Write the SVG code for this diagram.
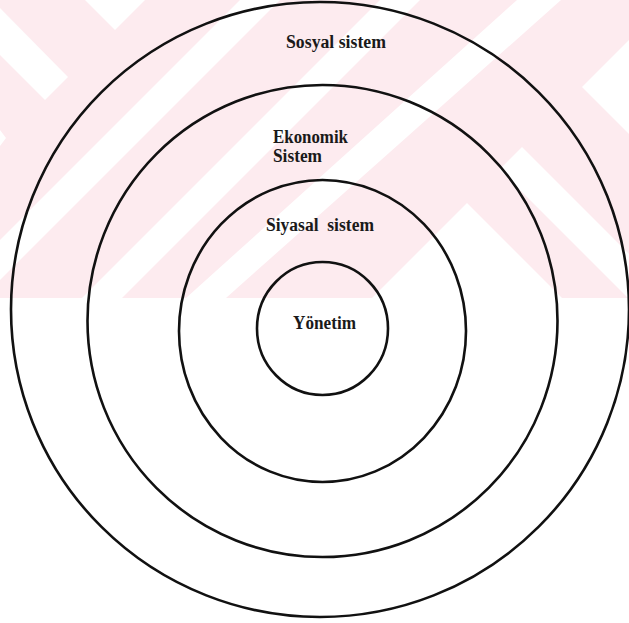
<svg xmlns="http://www.w3.org/2000/svg" width="629" height="623" viewBox="0 0 629 623">
  <style>
    .ring { fill: none; stroke: #111; stroke-width: 2.6; }
    .lbl { font-family: "Liberation Serif", "Times New Roman", serif; font-size: 18px; font-weight: bold; fill: #1a1a1a; }
    .wm { fill: #fdebef; }
    .wmw { fill: #ffffff; }
  </style>
  <rect x="0" y="0" width="629" height="623" fill="#ffffff"/>
  <g id="watermark">
    <rect class="wm" x="0" y="0" width="629" height="298"/>
    <polygon class="wmw" points="240,0 280,0 0,280 0,240"/>
    <polygon class="wmw" points="380,0 420,0 122,298 82,298"/>
    <polygon class="wmw" points="517,0 561,0 226,298 186,298"/>
    <polygon class="wmw" points="85,0 115,30 145,0"/>
    <polygon class="wmw" points="0,8 68,77 45,100 0,55"/>
    <polygon class="wmw" points="0,130 6,138 0,146"/>
    <polygon class="wmw" points="629,40 582,87 629,134"/>
    <polygon class="wmw" points="522,147 629,254 629,298 628,298 499.5,169.5"/>
    <polygon class="wmw" points="372,298 467,203 562,298"/>
  </g>
  <g id="sosyal-sistem">
    <ellipse class="ring" cx="320" cy="309.5" rx="309" ry="307.5"/>
    <text class="lbl" x="286" y="48" textLength="100" lengthAdjust="spacingAndGlyphs">Sosyal sistem</text>
  </g>
  <g id="ekonomik-sistem">
    <ellipse class="ring" cx="322.5" cy="321" rx="235" ry="236"/>
    <text class="lbl" x="273" y="142.5" textLength="75" lengthAdjust="spacingAndGlyphs">Ekonomik</text>
    <text class="lbl" x="273" y="162" textLength="49" lengthAdjust="spacingAndGlyphs">Sistem</text>
  </g>
  <g id="siyasal-sistem">
    <ellipse class="ring" cx="322.5" cy="331" rx="143.5" ry="151"/>
    <text class="lbl" x="266" y="230.5" textLength="108" lengthAdjust="spacingAndGlyphs" xml:space="preserve">Siyasal  sistem</text>
  </g>
  <g id="yonetim">
    <ellipse class="ring" cx="322.5" cy="328.5" rx="65.5" ry="66.5"/>
    <text class="lbl" x="293" y="329" textLength="63" lengthAdjust="spacingAndGlyphs">Yönetim</text>
  </g>
</svg>
